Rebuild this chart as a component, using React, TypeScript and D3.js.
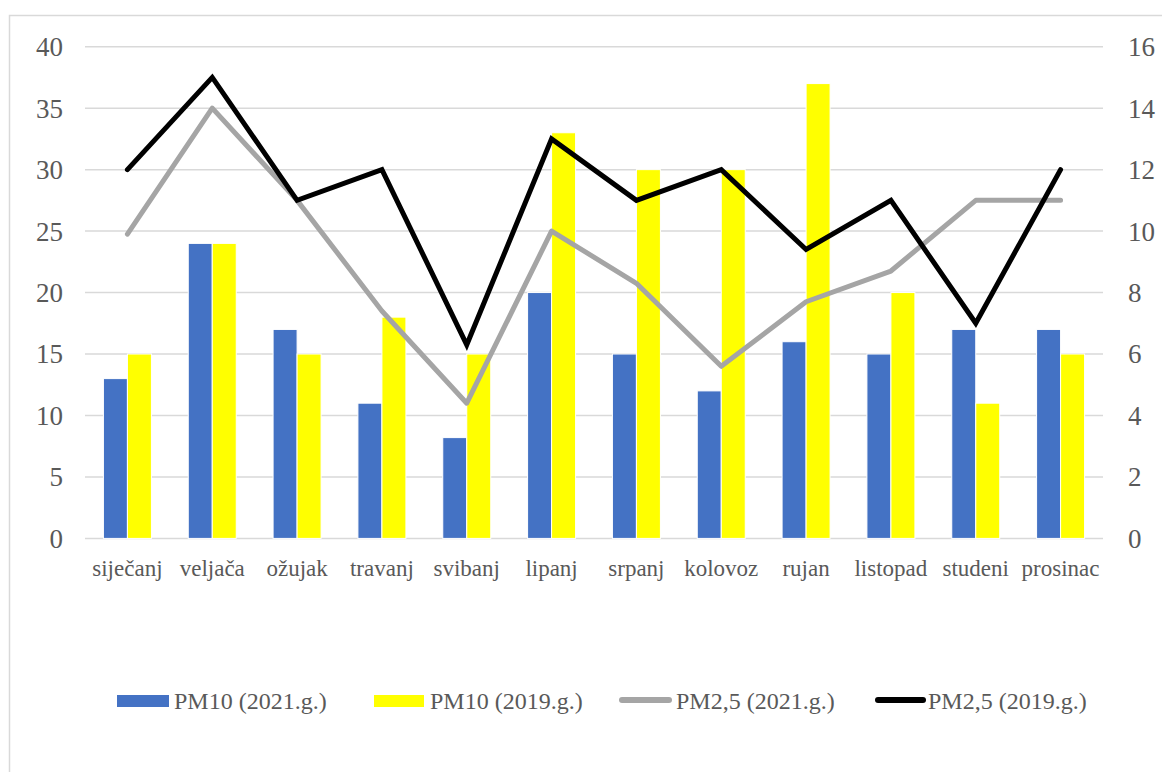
import React from 'react';
import * as d3 from 'd3';

// months (Croatian)
const months = ['siječanj', 'veljača', 'ožujak', 'travanj', 'svibanj', 'lipanj', 'srpanj', 'kolovoz', 'rujan', 'listopad', 'studeni', 'prosinac'];

// left axis – PM10
const pm10_2021 = [13, 24, 17, 11, 8.2, 20, 15, 12, 16, 15, 17, 17];
const pm10_2019 = [15, 24, 15, 18, 15, 33, 30, 30, 37, 20, 11, 15];

// right axis – PM2,5
const pm25_2021 = [9.9, 14, 11, 7.4, 4.4, 10, 8.3, 5.6, 7.7, 8.7, 11, 11];
const pm25_2019 = [12, 15, 11, 12, 6.3, 13, 11, 12, 9.4, 11, 7, 12];

const leftTicks = [0, 5, 10, 15, 20, 25, 30, 35, 40];
const rightTicks = [0, 2, 4, 6, 8, 10, 12, 14, 16];

const legendItems = [
  { label: 'PM10 (2021.g.)', color: '#4472C4', kind: 'bar' },
  { label: 'PM10 (2019.g.)', color: '#FFFF00', kind: 'bar' },
  { label: 'PM2,5 (2021.g.)', color: '#A5A5A5', kind: 'line' },
  { label: 'PM2,5 (2019.g.)', color: '#000000', kind: 'line' },
];

const W = 1162;
const H = 772;
const FONT = '"Liberation Serif", "Times New Roman", serif';
const TEXT = '#595959';

export default function App() {
  const left = 85;
  const right = 1103;
  const top = 46.7;
  const bottom = 538.4;

  const x = d3.scaleBand<string>().domain(months).range([left, right]).paddingInner(0).paddingOuter(0);
  const yL = d3.scaleLinear().domain([0, 40]).range([bottom, top]);
  const yR = d3.scaleLinear().domain([0, 16]).range([bottom, top]);
  const cx = (m: string) => (x(m) as number) + x.bandwidth() / 2;
  const barW = 24;

  const line = d3.line<number>()
    .x((_, i) => cx(months[i]))
    .y(d => yR(d));

  // legend layout (swatch start, width, text start)
  const legendPos = [
    { sx: 117, sw: 52, tx: 174 },
    { sx: 374, sw: 50, tx: 430 },
    { sx: 619, sw: 53, tx: 676 },
    { sx: 875, sw: 51, tx: 928 },
  ];
  const legendY = 701;

  return (
    <svg width={W} height={H} style={{ position: 'absolute', left: 0, top: 0, display: 'block', background: '#fff' }}>
      <rect x={9.5} y={15.5} width={1200} height={800} fill="#fff" stroke="#D9D9D9" strokeWidth={1.5} />

      {/* gridlines */}
      {leftTicks.map(t => (
        <line key={t} x1={left} x2={right} y1={yL(t)} y2={yL(t)} stroke="#D9D9D9" strokeWidth={1.5} />
      ))}

      {/* left ticks */}
      {leftTicks.map(t => (
        <text key={'l' + t} x={63} y={yL(t)} dy="0.35em" textAnchor="end" fontFamily={FONT} fontSize={27} fill={TEXT}>{t}</text>
      ))}
      {/* right ticks */}
      {rightTicks.map(t => (
        <text key={'r' + t} x={1128} y={yR(t)} dy="0.35em" textAnchor="start" fontFamily={FONT} fontSize={27} fill={TEXT}>{t}</text>
      ))}

      {/* bars */}
      {months.map((m, i) => (
        <g key={m}>
          <rect x={cx(m) - barW} y={yL(pm10_2021[i])} width={barW} height={bottom - yL(pm10_2021[i])} fill="#4472C4" stroke="#fff" strokeWidth={1} />
          <rect x={cx(m)} y={yL(pm10_2019[i])} width={barW} height={bottom - yL(pm10_2019[i])} fill="#FFFF00" stroke="#fff" strokeWidth={1} />
        </g>
      ))}

      {/* lines */}
      <path d={line(pm25_2021) || ''} fill="none" stroke="#A5A5A5" strokeWidth={5} strokeLinejoin="round" strokeLinecap="round" />
      <path d={line(pm25_2019) || ''} fill="none" stroke="#000" strokeWidth={5} strokeLinejoin="miter" strokeLinecap="round" />

      {/* category labels */}
      {months.map(m => (
        <text key={'c' + m} x={cx(m)} y={576} textAnchor="middle" fontFamily={FONT} fontSize={23} fill={TEXT}>{m}</text>
      ))}

      {/* legend */}
      {legendItems.map((it, i) => {
        const p = legendPos[i];
        return (
          <g key={it.label}>
            {it.kind === 'bar' ? (
              <rect x={p.sx} y={legendY - 6} width={p.sw} height={12} fill={it.color} />
            ) : (
              <line x1={p.sx + 3} x2={p.sx + p.sw - 3} y1={legendY - 1} y2={legendY - 1} stroke={it.color} strokeWidth={6} strokeLinecap="round" />
            )}
            <text x={p.tx} y={709} fontFamily={FONT} fontSize={24} fill={TEXT}>{it.label}</text>
          </g>
        );
      })}
    </svg>
  );
}
